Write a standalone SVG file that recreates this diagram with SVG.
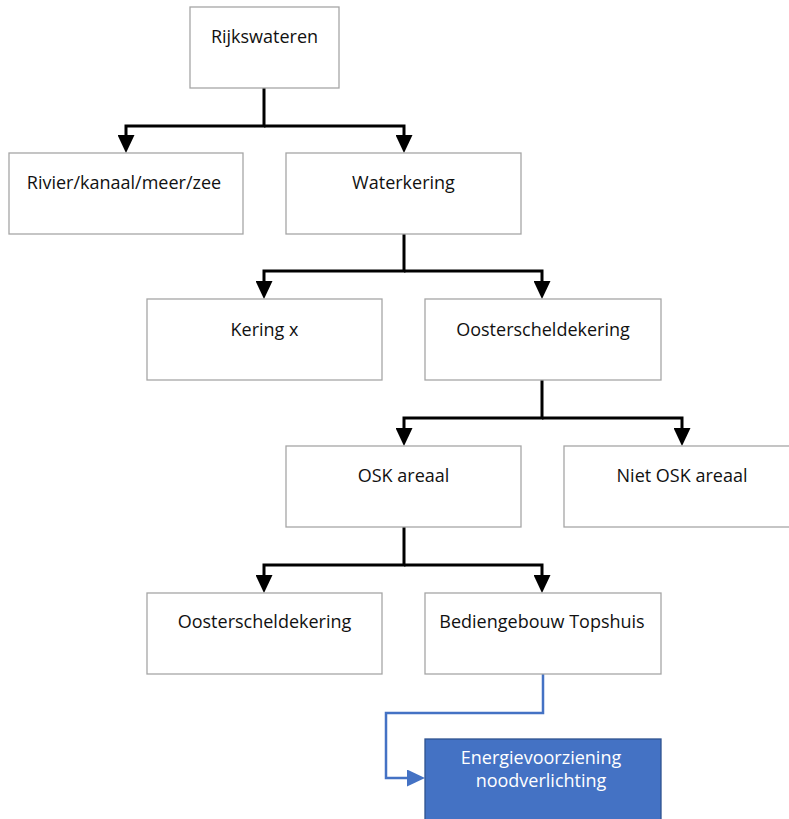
<svg xmlns="http://www.w3.org/2000/svg" width="789" height="819" viewBox="0 0 789 819">
<style>
.box{fill:#fff;stroke:#a6a6a6;stroke-width:1.3}
.lbl{font-family:"Open Sans","Liberation Sans",sans-serif;font-size:18px;fill:#111;text-anchor:middle}
.wl{fill:#fff}
.con{fill:none;stroke:#000;stroke-width:3}
.bcon{fill:none;stroke:#4472C4;stroke-width:2.5}
</style>
<defs>
<marker id="ah" viewBox="0 0 18 17" refX="8" refY="8.5" markerWidth="18" markerHeight="17" markerUnits="userSpaceOnUse" orient="auto">
<polygon points="0,0 18,8.5 0,17" fill="#000"/>
</marker>
<marker id="bh" viewBox="0 0 18 17" refX="8" refY="8.5" markerWidth="18" markerHeight="17" markerUnits="userSpaceOnUse" orient="auto">
<polygon points="0,0 18,8.5 0,17" fill="#4472C4"/>
</marker>
</defs>
<rect width="789" height="819" fill="#fff"/>
<g id="connectors">
<path class="con" d="M264,88 V126 H126 V143" marker-end="url(#ah)"/>
<path class="con" d="M264,126 H404 V143" marker-end="url(#ah)"/>
<path class="con" d="M404,234 V271 H264 V289" marker-end="url(#ah)"/>
<path class="con" d="M404,271 H542 V289" marker-end="url(#ah)"/>
<path class="con" d="M542,380 V418 H404 V436" marker-end="url(#ah)"/>
<path class="con" d="M542,418 H682 V436" marker-end="url(#ah)"/>
<path class="con" d="M404,527 V565 H264 V583" marker-end="url(#ah)"/>
<path class="con" d="M404,565 H542 V583" marker-end="url(#ah)"/>
<path class="bcon" d="M543,674 V713 H386 V778 H415" marker-end="url(#bh)"/>
</g>
<g id="rijkswateren"><rect class="box" x="190" y="7" width="149" height="81"/><text class="lbl" x="264.5" y="43">Rijkswateren</text></g>
<g id="rivier"><rect class="box" x="9" y="153" width="234" height="81"/><text class="lbl" x="124" y="189">Rivier/kanaal/meer/zee</text></g>
<g id="waterkering"><rect class="box" x="286" y="153" width="235" height="81"/><text class="lbl" x="403.5" y="189">Waterkering</text></g>
<g id="keringx"><rect class="box" x="147" y="299" width="235" height="81"/><text class="lbl" x="264.5" y="336">Kering x</text></g>
<g id="oosterscheldekering1"><rect class="box" x="425" y="299" width="236" height="81"/><text class="lbl" x="543" y="336">Oosterscheldekering</text></g>
<g id="oskareaal"><rect class="box" x="286" y="446" width="235" height="81"/><text class="lbl" x="403.5" y="482">OSK areaal</text></g>
<g id="nietosk"><rect class="box" x="564" y="446" width="240" height="81"/><text class="lbl" x="682" y="482">Niet OSK areaal</text></g>
<g id="oosterscheldekering2"><rect class="box" x="147" y="593" width="235" height="81"/><text class="lbl" x="264.5" y="628">Oosterscheldekering</text></g>
<g id="bediengebouw"><rect class="box" x="425" y="593" width="236" height="81"/><text class="lbl" x="542" y="628">Bediengebouw Topshuis</text></g>
<g id="energievoorziening"><rect x="425" y="739" width="236" height="95" fill="#4472C4" stroke="#2F528F" stroke-width="1.3"/><text class="lbl wl" x="541" y="764">Energievoorziening</text><text class="lbl wl" x="541" y="787">noodverlichting</text></g>
</svg>
